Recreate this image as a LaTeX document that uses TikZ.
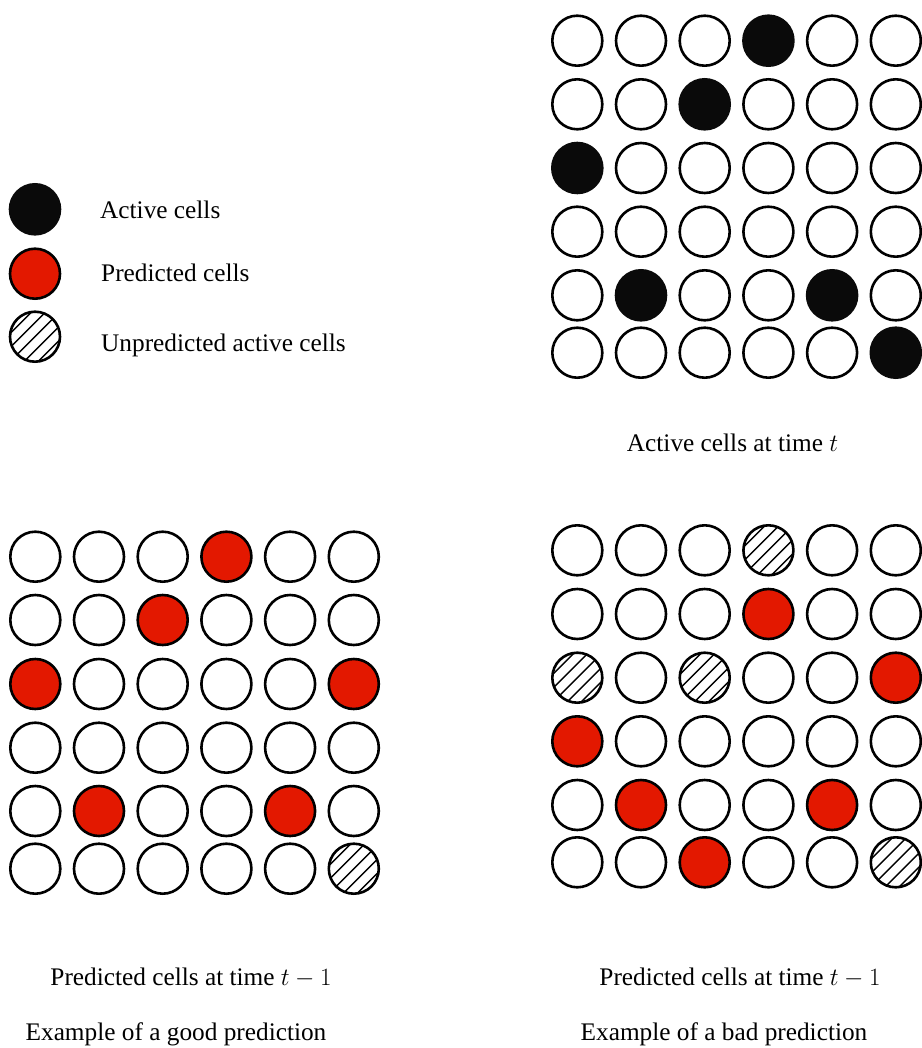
\documentclass[tikz,border=0pt]{standalone}
\usepackage{fontspec}
\setmainfont{Liberation Serif}
\definecolor{cellred}{HTML}{E31800}
\definecolor{cellblack}{HTML}{0A0A0A}
\tikzset{
  cell/.style={circle, draw=black, line width=2.6pt, minimum size=50pt, inner sep=0pt, fill=white},
  c0/.style={},
  c1/.style={fill=cellblack, draw=cellblack},
  c2/.style={fill=cellred},
  c3/.style={path picture={
      \foreach \k in {-4,...,4}
        \draw[line width=1.4pt, shift={(path picture bounding box.center)}]
          ({\k*14pt-32pt},-32pt) -- ++(64pt,64pt);
  }},
  lbl/.style={anchor=base, inner sep=0pt, font=\fontsize{25.3}{30}\selectfont},
  leg/.style={anchor=base west, inner sep=0pt, font=\fontsize{25.3}{30}\selectfont}
}
\newcommand{\gridrow}[5]{%
  \foreach \t [count=\c] in {#5} {%
    \node[cell, c\t] (#1-#2-\c) at ({#4+(\c-1)*63.7}, #3) {};%
  }%
}
\begin{document}
\begin{tikzpicture}[x=1pt, y=-1pt]
\useasboundingbox (0,0) rectangle (921,1048);
% legend
\node[cell, c1] (leg-active) at (35,209.3) {};
\node[cell, c2] (leg-pred) at (35,273.7) {};
\node[cell, c3] (leg-unpred) at (35,336.7) {};
\node[leg] (leg-active-txt) at (100,218.3) {Active cells};
\node[leg] (leg-pred-txt) at (101,281.7) {Predicted cells};
\node[leg] (leg-unpred-txt) at (101,351.7) {Unpredicted active cells};
% top right: active cells at time t
\gridrow{tr}{1}{40.7}{577.3}{0,0,0,1,0,0}
\gridrow{tr}{2}{104.3}{577.3}{0,0,1,0,0,0}
\gridrow{tr}{3}{168}{577.3}{1,0,0,0,0,0}
\gridrow{tr}{4}{231.7}{577.3}{0,0,0,0,0,0}
\gridrow{tr}{5}{295.3}{577.3}{0,1,0,0,1,0}
\gridrow{tr}{6}{352.7}{577.3}{0,0,0,0,0,1}
\node[lbl] (tr-label) at (732.5,451) {Active cells at time $t$};
% bottom left: good prediction
\gridrow{bl}{1}{556.7}{35.3}{0,0,0,2,0,0}
\gridrow{bl}{2}{620}{35.3}{0,0,2,0,0,0}
\gridrow{bl}{3}{684}{35.3}{2,0,0,0,0,2}
\gridrow{bl}{4}{747.7}{35.3}{0,0,0,0,0,0}
\gridrow{bl}{5}{811}{35.3}{0,2,0,0,2,0}
\gridrow{bl}{6}{868.7}{35.3}{0,0,0,0,0,3}
\node[lbl] (bl-label) at (191,985) {Predicted cells at time $t-1$};
\node[lbl] (bl-caption) at (176,1040) {Example of a good prediction};
% bottom right: bad prediction
\gridrow{br}{1}{550.3}{577.3}{0,0,0,3,0,0}
\gridrow{br}{2}{614}{577.3}{0,0,0,2,0,0}
\gridrow{br}{3}{677.7}{577.3}{3,0,3,0,0,2}
\gridrow{br}{4}{741.3}{577.3}{2,0,0,0,0,0}
\gridrow{br}{5}{805}{577.3}{0,2,0,0,2,0}
\gridrow{br}{6}{862.3}{577.3}{0,0,2,0,0,3}
\node[lbl] (br-label) at (740,985) {Predicted cells at time $t-1$};
\node[lbl] (br-caption) at (724,1040) {Example of a bad prediction};
\end{tikzpicture}
\end{document}
